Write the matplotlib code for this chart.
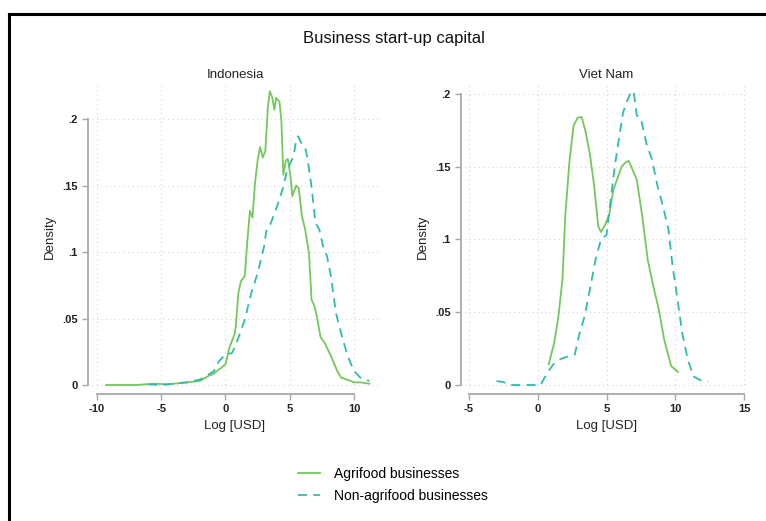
import numpy as np
import matplotlib
matplotlib.use('Agg')
import matplotlib.pyplot as plt
from matplotlib.lines import Line2D

plt.rcParams['font.family'] = ['Liberation Sans', 'DejaVu Sans']
plt.rcParams['axes.unicode_minus'] = False

# Indonesia, agrifood businesses (kernel density of log start-up capital)
idn_agri_x = [-9.3, -7.0, -5.5, -4.5, -3.0, -2.0, -1.3, -1.0, 0.0, 0.3, 0.7, 0.8, 1.0, 1.2, 1.5,
              1.7, 1.9, 2.1, 2.3, 2.5, 2.7, 2.9, 3.1, 3.3, 3.45, 3.65, 3.8, 3.95, 4.2,
              4.35, 4.5, 4.7, 4.85, 5.05, 5.2, 5.5, 5.7, 5.95, 6.2, 6.5, 6.7, 6.9, 7.1,
              7.4, 7.7, 8.2, 8.7, 9.0, 9.5, 10.0, 10.5, 11.2]
idn_agri_y = [0.0, 0.0, 0.001, 0.0005, 0.002, 0.003, 0.007, 0.008, 0.0155, 0.028, 0.038, 0.044,
              0.069, 0.078, 0.082, 0.108, 0.131, 0.126, 0.152, 0.169, 0.179, 0.171, 0.176,
              0.209, 0.221, 0.216, 0.207, 0.216, 0.213, 0.199, 0.158, 0.169, 0.170, 0.158,
              0.142, 0.150, 0.148, 0.127, 0.117, 0.099, 0.064, 0.060, 0.052, 0.036, 0.032,
              0.022, 0.0105, 0.0055, 0.004, 0.002, 0.002, 0.001]

# Indonesia, non-agrifood businesses
idn_non_x = [-6.0, -5.0, -4.0, -3.0, -2.0, -1.3, -0.9, -0.5, 0.0, 0.5, 0.8, 1.5, 2.0, 2.5,
             3.0, 3.2, 3.5, 4.0, 4.5, 4.8, 5.0, 5.3, 5.5, 5.65, 5.9, 6.2, 6.4, 6.7, 7.0,
             7.3, 7.6, 7.9, 8.2, 8.6, 9.0, 9.5, 10.0, 10.5, 11.2]
idn_non_y = [0.0005, 0.0, 0.001, 0.002, 0.004, 0.008, 0.0105, 0.018, 0.023, 0.024, 0.030,
             0.049, 0.069, 0.084, 0.104, 0.117, 0.121, 0.134, 0.149, 0.162, 0.166, 0.172,
             0.184, 0.187, 0.182, 0.179, 0.169, 0.149, 0.122, 0.117, 0.104, 0.097, 0.082,
             0.054, 0.039, 0.022, 0.0105, 0.0055, 0.003]

# Viet Nam, agrifood businesses
vnm_agri_x = [0.8, 1.2, 1.5, 1.8, 2.0, 2.3, 2.6, 2.9, 3.2, 3.5, 3.8, 4.1, 4.4, 4.6, 4.9, 5.2,
              5.5, 5.8, 6.1, 6.4, 6.6, 6.8, 7.2, 7.6, 8.0, 8.4, 8.8, 9.2, 9.7, 10.2]
vnm_agri_y = [0.0142, 0.029, 0.047, 0.0725, 0.116, 0.153, 0.178, 0.1835, 0.184, 0.173, 0.158,
              0.137, 0.109, 0.105, 0.110, 0.117, 0.134, 0.142, 0.150, 0.153, 0.154, 0.150,
              0.141, 0.116, 0.086, 0.068, 0.052, 0.031, 0.013, 0.009]

# Viet Nam, non-agrifood businesses
vnm_non_x = [-3.0, -2.5, -2.0, -1.0, 0.2, 0.7, 1.2, 1.7, 2.3, 2.7, 3.0, 3.4, 3.8, 4.2, 4.6,
             5.0, 5.3, 5.6, 5.9, 6.2, 6.5, 6.8, 7.0, 7.2, 7.5, 7.9, 8.3, 8.7, 9.1, 9.5,
             9.8, 10.1, 10.5, 10.9, 11.3, 11.8, 12.4]
vnm_non_y = [0.0027, 0.002, 0.0, 0.0, 0.0, 0.0085, 0.015, 0.018, 0.020, 0.021, 0.034, 0.047,
             0.066, 0.086, 0.100, 0.103, 0.127, 0.150, 0.169, 0.187, 0.195, 0.202, 0.200,
             0.185, 0.183, 0.166, 0.155, 0.137, 0.123, 0.107, 0.082, 0.063, 0.036, 0.018,
             0.006, 0.0034, 0.0023]

yticks = [0, 0.05, 0.1, 0.15, 0.2]
ytick_labels = ['0', '.05', '.1', '.15', '.2']
green = '#74c85c'
teal = '#30bcac'
axis_gray = '#a8a8a8'
W, H = 766, 521

fig = plt.figure(figsize=(W / 100, H / 100), dpi=100)

# outer frame, cut at the right and bottom
fig.add_artist(Line2D([8.5 / W, 8.5 / W], [0, 1 - 14 / H], color='black', lw=2.2,
                      transform=fig.transFigure))
fig.add_artist(Line2D([8.5 / W, 1], [1 - 14 / H, 1 - 14 / H], color='black', lw=2.2,
                      transform=fig.transFigure))


def make_axes(left, right, top, bottom):
    return fig.add_axes([left / W, 1 - bottom / H, (right - left) / W, (bottom - top) / H])


panels = [
    dict(box=(92, 378, 85, 389), xlim=(-10.39, 11.87), ylim=(-0.003, 0.2256),
         xticks=[-10, -5, 0, 5, 10], title='Indonesia',
         agri=(idn_agri_x, idn_agri_y), non=(idn_non_x, idn_non_y)),
    dict(box=(465, 748, 85, 389), xlim=(-5.29, 15.29), ylim=(-0.00275, 0.206),
         xticks=[-5, 0, 5, 10, 15], title='Viet Nam',
         agri=(vnm_agri_x, vnm_agri_y), non=(vnm_non_x, vnm_non_y)),
]

for p in panels:
    ax = make_axes(*p['box'])
    ax.plot(*p['agri'], color=green, lw=1.3, solid_joinstyle='round')
    ax.plot(*p['non'], color=teal, lw=1.3, dashes=(5, 3.5))
    ax.set_xlim(*p['xlim'])
    ax.set_ylim(*p['ylim'])
    ax.set_xticks(p['xticks'])
    ax.set_yticks(yticks)
    ax.set_yticklabels(ytick_labels)
    ax.grid(True, color='#d6d6d6', lw=0.8, linestyle=(0, (1, 3)))
    for s in ['top', 'right']:
        ax.spines[s].set_visible(False)
    ax.spines['left'].set_position(('outward', 3))
    ax.spines['bottom'].set_position(('outward', 3.5))
    ax.spines['left'].set_bounds(0, 0.2)
    ax.spines['bottom'].set_bounds(p['xticks'][0], p['xticks'][-1])
    for s in ['left', 'bottom']:
        ax.spines[s].set_color(axis_gray)
        ax.spines[s].set_linewidth(1.3)
    ax.tick_params(colors=axis_gray, labelcolor='#222222', labelsize=8, length=4, width=1)
    for lab in ax.get_xticklabels() + ax.get_yticklabels():
        lab.set_fontweight('bold')
    ax.set_ylabel('Density', fontsize=9.5, color='#222222', labelpad=4)
    ax.set_xlabel('Log [USD]', fontsize=9.5, color='#222222', labelpad=4)
    ax.set_title(p['title'], fontsize=9.5, color='#222222', pad=5)
    ax.patch.set_alpha(0)

fig.text(394 / W, 1 - 39 / H, 'Business start-up capital', ha='center', va='center',
         fontsize=12, color='#111111')

handles = [Line2D([], [], color=green, lw=1.3),
           Line2D([], [], color=teal, lw=1.3, dashes=(5, 3.5))]
fig.legend(handles, ['Agrifood businesses', 'Non-agrifood businesses'],
           loc='center', bbox_to_anchor=(393 / W, 1 - 485 / H), frameon=False,
           fontsize=10, handlelength=1.6, labelspacing=0.55, handletextpad=1.0)

fig.savefig('out.png', dpi=100)
